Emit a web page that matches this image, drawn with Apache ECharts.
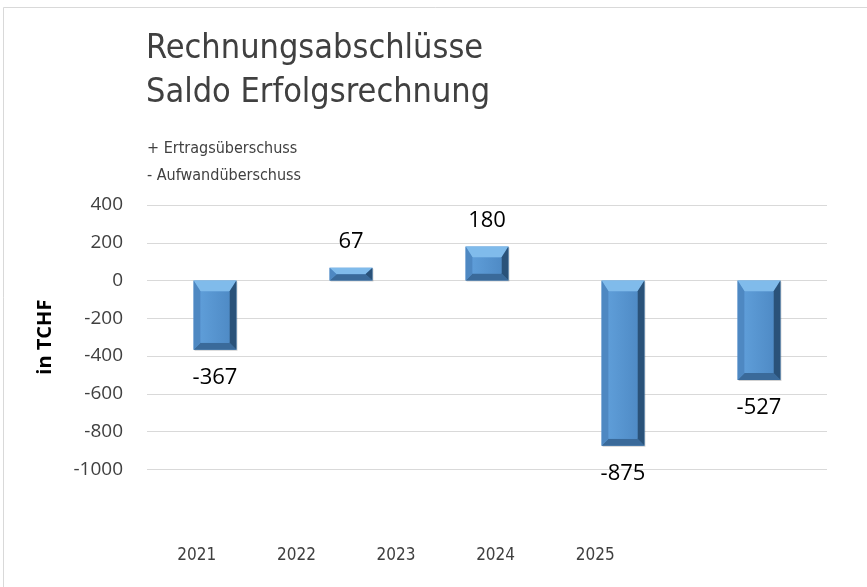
<!DOCTYPE html>
<html>
<head>
<meta charset="utf-8">
<script src="https://cdn.jsdelivr.net/npm/echarts@6/dist/echarts.min.js"></script>
<style>
html,body{margin:0;padding:0;background:#fff;}
#c{width:867px;height:587px;}
</style>
</head>
<body>
<div id="c"></div>
<script>
var categories = ['2021', '2022', '2023', '2024', '2025'];
var values = [-367, 67, 180, -875, -527];
var yTicks = { min: -1000, max: 400, interval: 200 };
var titleLines = ['Rechnungsabschlüsse', 'Saldo Erfolgsrechnung'];
var subtitleLines = ['+ Ertragsüberschuss', '- Aufwandüberschuss'];
var yAxisName = 'in TCHF';

var condensed = "'DejaVu Sans Condensed', 'Open Sans', sans-serif";

var chart = echarts.init(document.getElementById('c'), null, { renderer: 'canvas' });

function renderBar(params, api) {
  var idx = api.value(0);
  var v = api.value(1);
  var p0 = api.coord([idx, 0]);
  var p1 = api.coord([idx, v]);
  var bw = api.size([1, 0])[0] * 0.315;
  var x0 = p0[0] - bw / 2, x1 = p0[0] + bw / 2;
  var yt = Math.min(p0[1], p1[1]), yb = Math.max(p0[1], p1[1]);
  var h = yb - yt;
  var bt = Math.min(11, h / 2), bs = Math.min(7, bw / 2), bb = Math.min(7, h / 2);
  var children = [
    { type: 'rect', shape: { x: x0 + 1, y: yt + 1, width: bw, height: h }, style: { fill: 'rgba(0,0,0,0.18)' } },
    { type: 'rect', shape: { x: x0, y: yt, width: bw, height: h }, style: { fill: '#5A98D4' } },
    { type: 'polygon', shape: { points: [[x0, yt], [x1, yt], [x1 - bs, yt + bt], [x0 + bs, yt + bt]] }, style: { fill: '#80BBEB' } },
    { type: 'polygon', shape: { points: [[x0, yb], [x1, yb], [x1 - bs, yb - bb], [x0 + bs, yb - bb]] }, style: { fill: '#3A6A9A' } },
    { type: 'polygon', shape: { points: [[x0, yt], [x0 + bs, yt + bt], [x0 + bs, yb - bb], [x0, yb]] }, style: { fill: '#4E88C2' } },
    { type: 'polygon', shape: { points: [[x1, yt], [x1 - bs, yt + bt], [x1 - bs, yb - bb], [x1, yb]] }, style: { fill: '#2A5279' } },
    { type: 'rect', shape: { x: x0 + bs, y: yt + bt, width: bw - 2 * bs, height: Math.max(0, h - bt - bb) },
      style: { fill: new echarts.graphic.LinearGradient(0, 0, 1, 0, [{ offset: 0, color: '#5E9DD8' }, { offset: 1, color: '#4F8BC6' }]) } }
  ];
  var ly = v >= 0 ? yt - 26 : yb + 28;
  children.push({
    type: 'text',
    style: { text: String(v), x: p0[0], y: ly, align: 'center', verticalAlign: 'middle',
      fill: '#000', font: "22px 'Open Sans', sans-serif" }
  });
  return { type: 'group', children: children };
}

var option = {
  backgroundColor: '#fff',
  animation: false,
  graphic: [
    { type: 'line', shape: { x1: 3.5, y1: 7.5, x2: 867, y2: 7.5 }, style: { stroke: '#D9D9D9', lineWidth: 1 } },
    { type: 'line', shape: { x1: 3.5, y1: 7.5, x2: 3.5, y2: 587 }, style: { stroke: '#D9D9D9', lineWidth: 1 } }
  ],
  title: [
    { text: titleLines.join('\n'), left: 141, top: 22,
      textStyle: { fontFamily: condensed, fontSize: 34, fontWeight: 'normal', color: '#404040', lineHeight: 44 } },
    { text: subtitleLines.join('\n'), left: 142, top: 130,
      textStyle: { fontFamily: condensed, fontSize: 16, fontWeight: 'normal', color: '#404040', lineHeight: 27 } }
  ],
  grid: [
    { left: 147, right: 40, top: 205, bottom: 117.7 },
    { left: 147, width: 498, top: 205, height: 335 }
  ],
  xAxis: [
    { type: 'category', gridIndex: 0, data: categories, axisLine: { show: false }, axisTick: { show: false }, axisLabel: { show: false } },
    { type: 'category', gridIndex: 1, data: categories, axisLine: { show: false }, axisTick: { show: false },
      axisLabel: { margin: 7, color: '#404040', fontSize: 17, fontFamily: condensed } }
  ],
  yAxis: [
    { type: 'value', gridIndex: 0, min: yTicks.min, max: yTicks.max, interval: yTicks.interval,
      name: yAxisName, nameLocation: 'middle', nameGap: 92, nameRotate: 90,
      nameTextStyle: { fontSize: 20, fontWeight: 'bold', color: '#000', fontFamily: "'Open Sans', sans-serif" },
      axisLine: { show: false }, axisTick: { show: false },
      axisLabel: { margin: 24, color: '#404040', fontSize: 19, fontFamily: "'Open Sans', sans-serif",
        formatter: function (v) { return String(v); } },
      splitLine: { lineStyle: { color: '#D9D9D9', width: 1 } } },
    { type: 'value', gridIndex: 1, show: false, splitLine: { show: false } }
  ],
  series: [
    { type: 'custom', xAxisIndex: 0, yAxisIndex: 0, renderItem: renderBar,
      data: values.map(function (v, i) { return [i, v]; }), clip: false }
  ]
};
chart.setOption(option);
</script>
</body>
</html>
